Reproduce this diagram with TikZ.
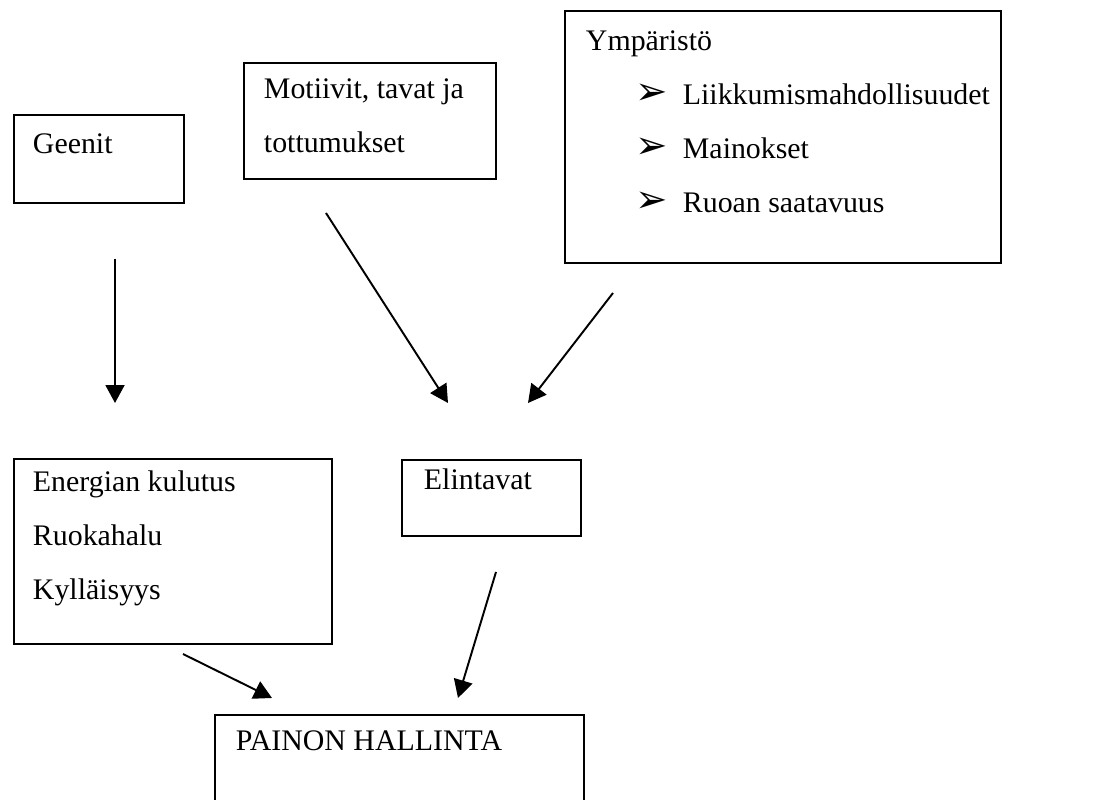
\documentclass[tikz,border=0pt]{standalone}
\usepackage{fontspec}
\setmainfont{Liberation Serif}
\newfontfamily\symfont{DejaVu Sans}
\usetikzlibrary{arrows.meta, positioning}
\tikzstyle{box} = [rectangle, draw, line width=1.1pt, anchor=north west, inner sep=0pt]
\tikzstyle{link} = [line width=1.1pt, -{Triangle[length=0.36cm, width=0.38cm]}]
% W x H box, text padded from left and top
\newcommand{\boxtxt}[5]{\parbox[b][#2][t]{#1}{\leftskip=#3\relax\vspace*{#4}#5\par}}
\newcommand{\itemarrow}{\hspace*{1.0cm}\makebox[0.94cm][l]{\symfont\fontsize{22}{22}\selectfont ➢}}

\begin{document}
\begin{tikzpicture}[x=0.02cm, y=-0.02cm, font=\fontsize{17}{30.6}\selectfont]
  \useasboundingbox (0,0) rectangle (1100,800);
  \clip (0,0) rectangle (1100,800);
  % top row
  \node (geenit) [box] at (13,114) {\boxtxt{3.4cm}{1.76cm}{0.38cm}{0.38cm}{Geenit}};
  \node (motiivit) [box] at (243,62) {\boxtxt{5.04cm}{2.32cm}{0.4cm}{0.32cm}{Motiivit, tavat ja\\tottumukset}};
  \node (ymparisto) [box] at (564,10) {\boxtxt{8.72cm}{5.04cm}{0.42cm}{0.4cm}{Ympäristö\\
    \itemarrow Liikkumismahdollisuudet\\
    \itemarrow Mainokset\\
    \itemarrow Ruoan saatavuus}};
  % middle row
  \node (energia) [box] at (13,458) {\boxtxt{6.36cm}{3.7cm}{0.38cm}{0.24cm}{Energian kulutus\\Ruokahalu\\Kylläisyys}};
  \node (elintavat) [box] at (401,459) {\boxtxt{3.58cm}{1.52cm}{0.44cm}{0.18cm}{Elintavat}};
  % bottom
  \node (painon) [box] at (214,714) {\boxtxt{7.38cm}{2.2cm}{0.42cm}{0.32cm}{PAINON HALLINTA}};
  % arrow ends
  \coordinate (g1) at (115,259);  \coordinate (g2) at (115,403);
  \coordinate (m1) at (326,213);  \coordinate (m2) at (448,403);
  \coordinate (y1) at (613,293);  \coordinate (y2) at (528,403);
  \coordinate (e1) at (183,654);  \coordinate (e2) at (272,698);
  \coordinate (l1) at (496,572);  \coordinate (l2) at (458,698);
  \draw [link] (g1) -- (g2);
  \draw [link] (m1) -- (m2);
  \draw [link] (y1) -- (y2);
  \draw [link] (e1) -- (e2);
  \draw [link] (l1) -- (l2);
\end{tikzpicture}
\end{document}
